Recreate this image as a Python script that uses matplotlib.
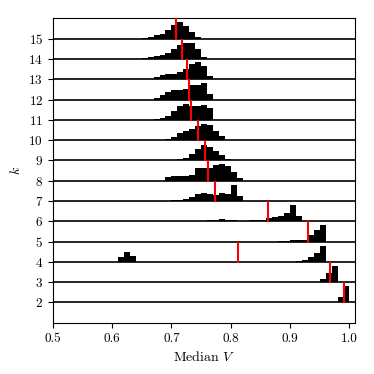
import numpy as np
import matplotlib
matplotlib.use("Agg")
import matplotlib.pyplot as plt

plt.rcParams["font.family"] = "serif"
plt.rcParams["font.serif"] = ["cmr10"]
plt.rcParams["mathtext.fontset"] = "cm"
plt.rcParams["axes.formatter.use_mathtext"] = True

# histogram data per k: first bin left edge and relative bar heights (bin width 0.01)
ks = [15, 14, 13, 12, 11, 10, 9, 8, 7, 6, 5, 4, 3, 2]
starts = [0.65, 0.65, 0.66, 0.67, 0.67, 0.69, 0.70, 0.69, 0.70, 0.76, 0.88, 0.61, 0.94, 0.97]
heights = [
    [2, 4, 10, 15, 25, 40, 48, 38, 20, 6],
    [2, 5, 8, 12, 18, 30, 42, 48, 48, 28, 5],
    [2, 8, 12, 14, 16, 20, 30, 45, 50, 40, 10],
    [3, 12, 22, 28, 28, 30, 42, 42, 50, 15],
    [2, 6, 12, 25, 40, 48, 42, 40, 45, 35],
    [3, 10, 20, 28, 32, 42, 48, 45, 28, 12],
    [2, 5, 8, 18, 35, 46, 40, 28, 15, 4],
    [10, 15, 13, 13, 18, 38, 38, 38, 45, 48, 42, 25, 8],
    [2, 4, 6, 12, 20, 25, 22, 18, 25, 22, 48, 15],
    [3, 5, 8, 3, 3, 2, 2, 3, 5, 5, 10, 12, 15, 25, 48, 15],
    [1, 2, 4, 5, 4, 18, 35, 48],
    [15, 30, 18, 0, 0, 0, 0, 0, 0, 0, 0, 0, 0, 0, 0, 0, 0, 0, 0, 0, 0, 0, 0, 0, 0, 0, 0, 0, 0, 1, 2, 5, 15, 25, 48],
    [1, 10, 28, 48],
    [2, 15, 48],
]
medians = [0.708, 0.7186, 0.7265, 0.729, 0.733, 0.7445, 0.756, 0.761, 0.774,
           0.8636, 0.930, 0.8125, 0.9676, 0.9912]

bw = 0.01
scale = 0.8 / 48

fig = plt.figure(figsize=(3.74, 3.74), dpi=100)
ax = fig.add_axes([0.141, 0.137, 0.809, 0.814])

for k, s, h, m in zip(ks, starts, heights, medians):
    h = np.array(h) * scale
    edges = s + bw * np.arange(len(h))
    ax.bar(edges, h, width=bw, bottom=k, align="edge", color="black", linewidth=0, zorder=2)
    ax.axhline(k, color="black", lw=1.2, zorder=3)
    ax.plot([m, m], [k, k + 0.95], color="red", lw=1.5, zorder=4)

ax.set_xlim(0.5, 1.01)
ax.set_ylim(1, 16)
ax.set_yticks(range(2, 16))
ax.set_xticks([0.5, 0.6, 0.7, 0.8, 0.9, 1.0])
ax.set_xticklabels(["0.5", "0.6", "0.7", "0.8", "0.9", "1.0"])
ax.tick_params(direction="out", labelsize=9.5, length=3.5)
ax.set_xlabel("Median $V$", fontsize=10)
ax.set_ylabel("$k$", fontsize=10)

fig.savefig("out.png", dpi=100)
